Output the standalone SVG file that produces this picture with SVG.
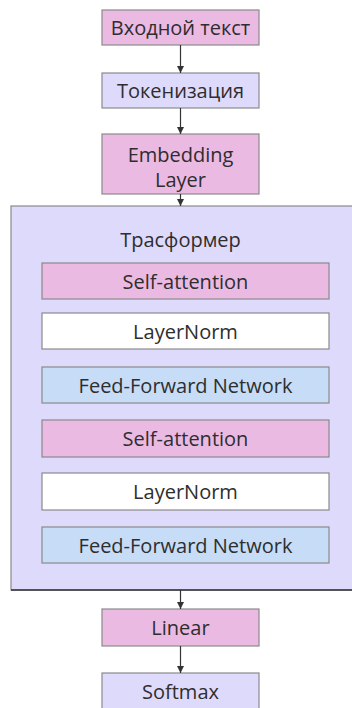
<svg xmlns="http://www.w3.org/2000/svg" width="352" height="708" viewBox="0 0 352 708">
<style>
.pink{fill:#ebbae3;stroke:#8a8a8a;stroke-width:1.2}
.lav{fill:#dedafc;stroke:#8a8a8a;stroke-width:1.2}
.blue{fill:#c6dcf7;stroke:#8a8a8a;stroke-width:1.2}
.white{fill:#ffffff;stroke:#8a8a8a;stroke-width:1.2}
text{font-family:"Open Sans","Noto Sans",sans-serif;font-size:20px;fill:#2e2e2e;text-anchor:middle;dominant-baseline:central}
.conn line{stroke:#333;stroke-width:1.2}
</style>
<defs>
<marker id="arr" viewBox="0 0 10 10" refX="10" refY="5" markerWidth="7" markerHeight="7" orient="auto" markerUnits="userSpaceOnUse">
<path d="M0,0 L10,5 L0,10 z" fill="#333"/>
</marker>
</defs>
<g id="transformer">
<rect class="lav" x="11" y="206" width="345" height="384"/>
<line x1="11" y1="590" x2="352" y2="590" stroke="#333" stroke-width="1.5"/>
<text x="180.5" y="239">Трасформер</text>
</g>
<g id="input"><rect class="pink" x="102" y="10" width="157" height="35"/><text x="180.5" y="27.5">Входной текст</text></g>
<g id="tokenize"><rect class="lav" x="102" y="73" width="157" height="35"/><text x="180.5" y="90.5">Токенизация</text></g>
<g id="embedding"><rect class="pink" x="102" y="134" width="157" height="60"/><text x="180.5" y="154">Embedding</text><text x="180.5" y="179">Layer</text></g>
<g id="sa1"><rect class="pink" x="42" y="263" width="287" height="36"/><text x="185.5" y="281">Self-attention</text></g>
<g id="ln1"><rect class="white" x="42" y="313" width="287" height="36"/><text x="185.5" y="331">LayerNorm</text></g>
<g id="ffn1"><rect class="blue" x="42" y="367" width="287" height="36"/><text x="185.5" y="385">Feed-Forward Network</text></g>
<g id="sa2"><rect class="pink" x="42" y="420" width="287" height="37"/><text x="185.5" y="438.5">Self-attention</text></g>
<g id="ln2"><rect class="white" x="42" y="473" width="287" height="37"/><text x="185.5" y="491.5">LayerNorm</text></g>
<g id="ffn2"><rect class="blue" x="42" y="527" width="287" height="36"/><text x="185.5" y="545">Feed-Forward Network</text></g>
<g id="linear"><rect class="pink" x="102" y="609" width="157" height="37"/><text x="180.5" y="627.5">Linear</text></g>
<g id="softmax"><rect class="lav" x="102" y="673" width="157" height="40"/><text x="180.5" y="691">Softmax</text></g>
<g class="conn">
<line x1="180.5" y1="45" x2="180.5" y2="73" marker-end="url(#arr)"/>
<line x1="180.5" y1="108" x2="180.5" y2="134" marker-end="url(#arr)"/>
<line x1="180.5" y1="194" x2="180.5" y2="206" marker-end="url(#arr)"/>
<line x1="180.5" y1="590" x2="180.5" y2="609" marker-end="url(#arr)"/>
<line x1="180.5" y1="646" x2="180.5" y2="673" marker-end="url(#arr)"/>
</g>
</svg>
